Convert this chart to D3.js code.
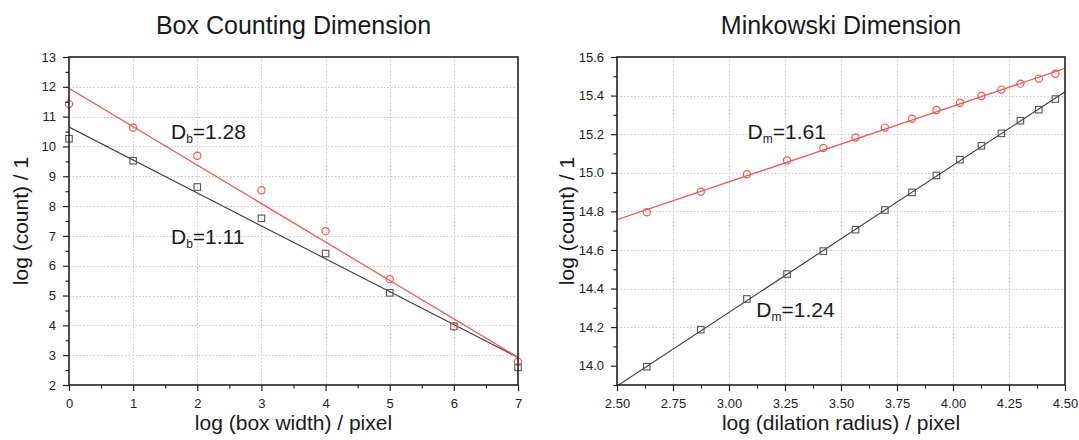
<!DOCTYPE html>
<html>
<head>
<meta charset="utf-8">
<script src="https://cdn.jsdelivr.net/npm/d3@7"></script>
<style>
  html, body { margin: 0; padding: 0; background: #fff; }
  svg { display: block; font-family: "Liberation Sans", Arial, sans-serif; }
</style>
</head>
<body>
<svg id="chart" width="1079" height="440"></svg>
<script>
// ---------- Data ----------
// Box counting dimension
const boxX = [0, 1, 2, 3, 4, 5, 6, 7];
const boxCircle = [11.42, 10.63, 9.69, 8.53, 7.16, 5.55, 3.96, 2.78];
const boxSquare = [10.26, 9.52, 8.64, 7.59, 6.41, 5.09, 3.97, 2.59];
const boxFitCircleEnds = [11.95, 2.93];   // fit value at x = 0 and x = 7
const boxFitSquareEnds = [10.65, 2.92];
const boxXTicks = [0, 1, 2, 3, 4, 5, 6, 7];
const boxYTicks = [2, 3, 4, 5, 6, 7, 8, 9, 10, 11, 12, 13];

// Minkowski dimension
const minkX = [2.633, 2.874, 3.080, 3.259, 3.421, 3.565, 3.696, 3.817, 3.926, 4.031, 4.127, 4.216, 4.301, 4.383, 4.457];
const minkCircle = [14.795, 14.902, 14.992, 15.064, 15.128, 15.183, 15.234, 15.280, 15.325, 15.363, 15.398, 15.431, 15.462, 15.488, 15.513];
const minkSquare = [13.995, 14.187, 14.346, 14.475, 14.594, 14.705, 14.807, 14.898, 14.986, 15.068, 15.140, 15.204, 15.270, 15.327, 15.382];
const minkFitCircleEnds = [14.757, 15.541]; // fit value at x = 2.5 and x = 4.5
const minkFitSquareEnds = [13.895, 15.42];
const minkXTicks = [2.5, 2.75, 3.0, 3.25, 3.5, 3.75, 4.0, 4.25, 4.5];
const minkYTicks = [14.0, 14.2, 14.4, 14.6, 14.8, 15.0, 15.2, 15.4, 15.6];

const titles = ["Box Counting Dimension", "Minkowski Dimension"];
const xTitles = ["log (box width) / pixel", "log (dilation radius) / pixel"];
const yTitle = "log (count) / 1";

// ---------- Styles ----------
const RED = "#ee5a5a";
const DARK = "#3c3c3c";
const GRID = "#c8c8c8";

const svg = d3.select("#chart");

function panel(cfg) {
  const { left, right, top, bottom, xDomain, yDomain, xTicks, yTicks, xMinor, yMinor,
          xFmt, yFmt, xs, c, s, fitC, fitS, title, xTitle, ann, id, yTitleX } = cfg;
  const x = d3.scaleLinear().domain(xDomain).range([left, right]);
  const y = d3.scaleLinear().domain(yDomain).range([bottom, top]);
  const g = svg.append("g");

  g.append("clipPath").attr("id", id).append("rect")
    .attr("x", left).attr("y", top).attr("width", right - left).attr("height", bottom - top);

  // grid
  const grid = g.append("g").attr("stroke", GRID).attr("stroke-width", 1).attr("stroke-dasharray", "1.5,2");
  grid.selectAll(".gx").data(xTicks.slice(1, -1)).join("line")
    .attr("x1", d => Math.round(x(d)) + 0.5).attr("x2", d => Math.round(x(d)) + 0.5)
    .attr("y1", top).attr("y2", bottom);
  grid.selectAll(".gy").data(yTicks.slice(1, -1)).join("line")
    .attr("y1", d => Math.round(y(d)) + 0.5).attr("y2", d => Math.round(y(d)) + 0.5)
    .attr("x1", left).attr("x2", right);

  // fit lines
  const lines = g.append("g").attr("clip-path", `url(#${id})`);
  const line = d3.line().x(d => x(d[0])).y(d => y(d[1]));
  lines.append("path").datum([[xDomain[0], fitS[0]], [xDomain[1], fitS[1]]])
    .attr("d", line).attr("fill", "none").attr("stroke", DARK).attr("stroke-width", 1.1);
  lines.append("path").datum([[xDomain[0], fitC[0]], [xDomain[1], fitC[1]]])
    .attr("d", line).attr("fill", "none").attr("stroke", RED).attr("stroke-width", 1.3);

  // markers
  const sq = 6.5;
  g.append("g").selectAll("rect").data(xs.map((v, i) => [v, s[i]])).join("rect")
    .attr("x", d => x(d[0]) - sq / 2).attr("y", d => y(d[1]) - sq / 2)
    .attr("width", sq).attr("height", sq)
    .attr("fill", "none").attr("stroke", "#555").attr("stroke-width", 1.1);
  g.append("g").selectAll("circle").data(xs.map((v, i) => [v, c[i]])).join("circle")
    .attr("cx", d => x(d[0])).attr("cy", d => y(d[1])).attr("r", 3.6)
    .attr("fill", "none").attr("stroke", RED).attr("stroke-width", 1.2);

  // axes
  const fontSize = 13;
  const xa = g.append("g").attr("transform", `translate(0,${bottom})`)
    .call(d3.axisBottom(x).tickValues(xTicks).tickFormat(xFmt).tickSize(6).tickPadding(8));
  const xm = g.append("g").attr("transform", `translate(0,${bottom})`)
    .call(d3.axisBottom(x).tickValues(xMinor).tickFormat("").tickSize(3.5));
  const ya = g.append("g").attr("transform", `translate(${left},0)`)
    .call(d3.axisLeft(y).tickValues(yTicks).tickFormat(yFmt).tickSize(6).tickPadding(7));
  const ym = g.append("g").attr("transform", `translate(${left},0)`)
    .call(d3.axisLeft(y).tickValues(yMinor).tickFormat("").tickSize(3.5));
  [xa, xm, ya, ym].forEach(a => {
    a.select(".domain").remove();
    a.selectAll("line").attr("stroke", "#222").attr("stroke-width", 1.2);
    a.selectAll("text").attr("font-size", fontSize).attr("fill", "#222")
      .attr("font-family", "Liberation Sans, Arial, sans-serif");
  });

  // frame
  g.append("rect").attr("x", left).attr("y", top).attr("width", right - left).attr("height", bottom - top)
    .attr("fill", "none").attr("stroke", "#222").attr("stroke-width", 1.6);

  // titles
  g.append("text").attr("x", (left + right) / 2).attr("y", 34).attr("text-anchor", "middle")
    .attr("font-size", 25).attr("fill", "#1a1a1a").text(title);
  g.append("text").attr("x", (left + right) / 2).attr("y", 430).attr("text-anchor", "middle")
    .attr("font-size", 21).attr("fill", "#1a1a1a").text(xTitle);
  g.append("text").attr("transform", `translate(${yTitleX},${(top + bottom) / 2}) rotate(-90)`)
    .attr("text-anchor", "middle").attr("font-size", 21).attr("fill", "#1a1a1a").text(yTitle);

  // annotations
  ann.forEach(a => {
    const t = g.append("text").attr("x", x(a.x)).attr("y", y(a.y)).attr("font-size", 21).attr("fill", "#1a1a1a");
    t.append("tspan").text("D");
    t.append("tspan").attr("font-size", 12).attr("dy", 4).text(a.sub);
    t.append("tspan").attr("dy", -4).text(a.val);
  });
}

panel({
  id: "clipL", left: 69, right: 518, top: 57, bottom: 385,
  xDomain: [0, 7], yDomain: [2, 13],
  xTicks: boxXTicks, yTicks: boxYTicks,
  xMinor: d3.range(0.5, 7, 1), yMinor: d3.range(2.5, 13, 1),
  xFmt: d3.format("d"), yFmt: d3.format("d"),
  xs: boxX, c: boxCircle, s: boxSquare, fitC: boxFitCircleEnds, fitS: boxFitSquareEnds,
  title: titles[0], xTitle: xTitles[0], yTitleX: 28,
  ann: [{ x: 1.59, y: 10.25, sub: "b", val: "=1.28" }, { x: 1.59, y: 6.73, sub: "b", val: "=1.11" }]
});

panel({
  id: "clipR", left: 617, right: 1065, top: 57, bottom: 385,
  xDomain: [2.5, 4.5], yDomain: [13.9, 15.6],
  xTicks: minkXTicks, yTicks: minkYTicks,
  xMinor: d3.range(2.625, 4.5, 0.25), yMinor: d3.range(13.9, 15.6, 0.2),
  xFmt: d3.format(".2f"), yFmt: d3.format(".1f"),
  xs: minkX, c: minkCircle, s: minkSquare, fitC: minkFitCircleEnds, fitS: minkFitSquareEnds,
  title: titles[1], xTitle: xTitles[1], yTitleX: 574,
  ann: [{ x: 3.083, y: 15.177, sub: "m", val: "=1.61" }, { x: 3.122, y: 14.254, sub: "m", val: "=1.24" }]
});
</script>
</body>
</html>
